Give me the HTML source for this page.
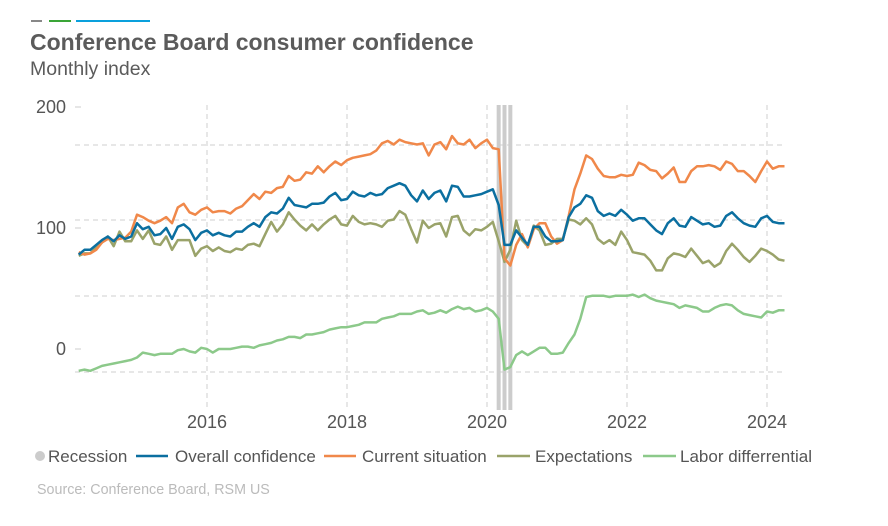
<!DOCTYPE html>
<html><head><meta charset="utf-8">
<style>
body{margin:0;background:#fff;font-family:"Liberation Sans",sans-serif;}
#wrap{position:relative;width:888px;height:526px;overflow:hidden;}
</style></head>
<body>
<div id="wrap">
<svg id="svg" width="888" height="526" xmlns="http://www.w3.org/2000/svg">
  <rect x="31" y="20" width="11" height="2" fill="#888"/>
  <rect x="49" y="20" width="22" height="2" fill="#3aa537"/>
  <rect x="76" y="20" width="74" height="2" fill="#0aa0dc"/>
  <text x="30" y="50" font-size="23" font-weight="bold" fill="#5b5b5b">Conference Board consumer confidence</text>
  <text x="30" y="75" font-size="19.5" fill="#5b5b5b">Monthly index</text>
  <g id="grid"></g>
  <g id="rec"></g>
  <g id="lines"></g>
  <g id="axes"></g>
  <g id="legend" font-size="17" fill="#555">
    <circle cx="40" cy="456" r="5" fill="#ccc"/>
    <text x="48" y="462">Recession</text>
    <line x1="136" y1="456" x2="168" y2="456" stroke="#0b6fa0" stroke-width="2.5"/>
    <text x="175" y="462">Overall confidence</text>
    <line x1="324" y1="456" x2="356" y2="456" stroke="#f0884a" stroke-width="2.5"/>
    <text x="362" y="462">Current situation</text>
    <line x1="497" y1="456" x2="530" y2="456" stroke="#9aa36a" stroke-width="2.5"/>
    <text x="535" y="462">Expectations</text>
    <line x1="643" y1="456" x2="676" y2="456" stroke="#8cc98a" stroke-width="2.5"/>
    <text x="680" y="462">Labor differrential</text>
  </g>
  <text x="37" y="494" font-size="14.3" fill="#bbb">Source: Conference Board, RSM US</text>
</svg>
</div>
<script>
// months from Mar 2014 to Apr 2024
const startYear = 2014, startMonth = 2; // 0-indexed month (Mar)
const overall = [
 78,82,82,86,90,93,89,94,91,93,
 104,99,101,94,95,100,91,101,103,99,90,96,
 98,94,96,94,93,97,97,101,104,101,109,113,
 112,116,125,119,118,117,120,120,121,126,129,123,
 124,130,127,126,129,127,128,133,135,137,135,127,
 122,131,124,129,131,122,135,134,126,126,127,128,
 130,132,119,86,86,98,92,86,101,101,93,89,
 89,90,109,117,120,127,125,114,110,112,110,115,
 111,106,108,108,103,98,95,104,108,102,101,109,
 106,103,104,101,102,110,113,108,104,102,101,108,
 110,105,104,104];
const current = [
 80,78,79,82,88,91,90,91,92,97,
 111,109,106,104,106,109,104,117,120,113,111,115,
 117,113,114,114,112,116,118,123,128,124,130,129,
 133,134,143,139,140,146,145,151,146,151,155,152,
 156,158,159,160,161,164,170,172,169,173,171,170,
 169,170,160,169,171,165,176,170,169,173,166,170,
 173,166,165,75,69,86,95,84,99,104,104,93,
 87,90,110,132,145,160,157,149,143,142,142,144,
 143,144,154,152,148,147,141,145,150,138,138,147,
 151,151,152,151,148,155,153,147,147,143,138,147,
 155,149,151,151];
const expectations = [
 77,79,79,84,88,93,85,97,89,89,
 98,91,98,87,86,93,82,90,90,90,77,83,
 85,81,84,81,80,83,82,86,87,85,95,105,
 97,103,113,107,102,98,103,98,103,107,110,103,
 102,110,105,103,104,103,101,106,107,114,111,99,
 88,106,100,103,104,93,109,110,98,94,99,98,
 101,105,89,72,82,106,90,85,102,98,86,87,
 91,91,107,106,103,108,103,91,87,90,86,97,
 90,80,79,78,73,65,65,75,79,78,76,83,
 77,71,73,68,71,81,87,82,76,72,77,83,
 81,78,74,73];
const labor = [
 -18,-17,-18,-16,-14,-13,-12,-11,-10,-9,
 -7,-3,-4,-5,-4,-4,-4,-1,0,-2,-3,1,
 0,-3,0,0,0,1,2,2,1,3,4,5,
 7,8,10,10,9,12,12,13,14,16,17,18,
 18,19,20,22,22,22,25,26,27,29,29,29,
 31,32,29,30,32,30,33,35,33,34,31,32,
 34,31,25,-17,-15,-5,-2,-5,-2,1,1,-4,
 -4,-3,5,12,25,43,44,44,44,43,44,44,
 44,45,43,45,42,40,39,38,37,34,36,35,
 34,31,31,34,36,37,36,32,29,28,27,26,
 31,30,32,32];
const yTicks = [0,100,200];
const xTicks = [2016,2018,2020,2022,2024];
const recessionMonths = [2020+2/12, 2020+3/12, 2020+4/12];

const NS="http://www.w3.org/2000/svg";
function xs(t){return 207 + (t-2016)*70;}
function ys(v){return 349 - v*1.21;}
function mk(tag, attrs, parent){const e=document.createElementNS(NS,tag);for(const k in attrs)e.setAttribute(k,attrs[k]);parent.appendChild(e);return e;}
const grid=document.getElementById('grid'), rec=document.getElementById('rec'), lines=document.getElementById('lines'), axes=document.getElementById('axes');
[145,220,296,372].forEach(function(y){
  const l=mk('line',{x1:75,x2:785,y1:y,y2:y,stroke:'#cfcfcf','stroke-width':1,'stroke-dasharray':'5,4'},grid);
  
  
});
xTicks.forEach(function(t){
  const x=xs(t);
  const l=mk('line',{x1:x,x2:x,y1:105,y2:408,stroke:'#cfcfcf','stroke-width':1,'stroke-dasharray':'5,4'},grid);
  
  
  const tx=mk('text',{x:x,y:428,'text-anchor':'middle','font-size':18,fill:'#555'},axes);
  tx.textContent=t;
  
  
});
yTicks.forEach(function(v){
  const y=ys(v);
  const tk=mk('line',{x1:75,x2:81,y1:y,y2:y,stroke:'#ccc','stroke-width':1},axes);
  
  
  const tx=mk('text',{x:66,y:y+6,'text-anchor':'end','font-size':18,fill:'#555'},axes);
  tx.textContent=v;
  
  
});
recessionMonths.forEach(function(t){
  const r=mk('rect',{x:xs(t)-2,y:105,width:4,height:305,fill:'#cccccc'},rec);
  
  
});
function tOf(i){return startYear + (startMonth+i)/12;}
function series(arr,color,name){
  const d=arr.map(function(v,i){return (i?'L':'M')+xs(tOf(i)).toFixed(1)+','+ys(v).toFixed(1);}).join('');
  const p=mk('path',{d:d,fill:'none',stroke:color,'stroke-width':2.5,'stroke-linejoin':'round'},lines);
  
  
}
series(labor,'#8cc98a','labor-differential-line');
series(expectations,'#9aa36a','expectations-line');
series(current,'#f0884a','current-situation-line');
series(overall,'#0b6fa0','overall-confidence-line');
</script>
</body></html>
